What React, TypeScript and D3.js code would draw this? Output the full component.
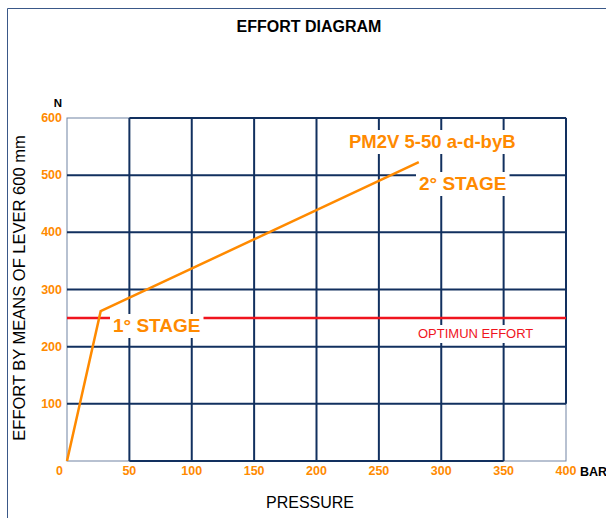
import React, { useEffect, useRef } from "react"
import * as d3 from "d3"

// values
const xTicks = [0, 50, 100, 150, 200, 250, 300, 350, 400]
const yTicks = [100, 200, 300, 400, 500, 600]
const effortCurve: [number, number][] = [[0, 0], [27, 262], [282, 523]]
const optimumEffort = 250

const ORANGE = "#ff8a00"
const NAVY = "#12305f"
const RED = "#f0141e"
const FONT = "Arial, 'Liberation Sans', sans-serif"

function App() {
    const ref = useRef<SVGSVGElement>(null)

    useEffect(() => {
        const svg = d3.select(ref.current)
        svg.selectAll("*").remove()

        const x = d3.scaleLinear().domain([0, 400]).range([67, 566])
        const y = d3.scaleLinear().domain([0, 600]).range([461, 118])

        // page frame
        svg.append("path")
            .attr("d", "M7.5,518 V8.5 H606")
            .attr("fill", "none")
            .attr("stroke", "#3a5888")
            .attr("stroke-width", 1)

        // thin plot border
        svg.append("rect")
            .attr("x", x(0)).attr("y", y(600))
            .attr("width", x(400) - x(0)).attr("height", y(0) - y(600))
            .attr("fill", "none")
            .attr("stroke", "#7083a3")
            .attr("stroke-width", 1)

        const grid = svg.append("g").attr("stroke", NAVY).attr("stroke-width", 2)
        xTicks.filter(d => d > 0 && d < 400).forEach(d => {
            grid.append("line").attr("x1", x(d)).attr("x2", x(d)).attr("y1", y(0)).attr("y2", y(600))
        })
        grid.append("line").attr("x1", x(400)).attr("x2", x(400)).attr("y1", y(100)).attr("y2", y(600))
        yTicks.filter(d => d < 600).forEach(d => {
            grid.append("line").attr("x1", x(0)).attr("x2", x(400)).attr("y1", y(d)).attr("y2", y(d))
        })
        grid.append("line").attr("x1", x(50)).attr("x2", x(400)).attr("y1", y(600)).attr("y2", y(600))
        grid.append("line").attr("x1", x(50)).attr("x2", x(350)).attr("y1", y(0)).attr("y2", y(0))

        // optimum effort line
        svg.append("line")
            .attr("x1", x(0)).attr("x2", x(400))
            .attr("y1", y(optimumEffort)).attr("y2", y(optimumEffort))
            .attr("stroke", RED)
            .attr("stroke-width", 2.5)

        // tick labels
        svg.append("g").selectAll("text").data(xTicks).enter().append("text")
            .attr("x", d => x(d)).attr("y", 475)
            .attr("text-anchor", d => d === 0 ? "end" : "middle")
            .attr("dx", d => d === 0 ? -4 : 0)
            .attr("font-family", FONT).attr("font-size", 12.5).attr("font-weight", "bold")
            .attr("fill", ORANGE)
            .text(d => d)
        svg.append("g").selectAll("text").data(yTicks).enter().append("text")
            .attr("x", 62).attr("y", d => y(d) + 4)
            .attr("text-anchor", "end")
            .attr("font-family", FONT).attr("font-size", 12.5).attr("font-weight", "bold")
            .attr("fill", ORANGE)
            .text(d => d)

        const text = (tx: number, ty: number, s: string, opts: any = {}) => {
            const g = svg.append("g")
            const t = g.append("text")
                .attr("x", tx).attr("y", ty)
                .attr("font-family", FONT)
                .attr("font-size", opts.size || 12)
                .attr("font-weight", opts.weight || "normal")
                .attr("fill", opts.fill || "#000")
                .attr("text-anchor", opts.anchor || "start")
                .attr("transform", opts.transform || null)
                .text(s)
            // white box behind in-plot labels, hides grid lines
            if (opts.bg) {
                const b = (t.node() as SVGTextElement).getBBox()
                g.insert("rect", "text")
                    .attr("x", b.x - 3).attr("y", b.y - 1)
                    .attr("width", b.width + 6).attr("height", b.height + 3)
                    .attr("fill", "#fff")
            }
            return t
        }

        text(309, 32, "EFFORT DIAGRAM", { size: 16, weight: "bold", anchor: "middle" })
        text(58, 107, "N", { size: 11.5, weight: "bold", anchor: "middle" })
        text(580, 476, "BAR", { size: 12.5, weight: "bold" })
        text(310, 508, "PRESSURE", { size: 16, anchor: "middle" })
        text(0, 0, "EFFORT BY MEANS OF LEVER 600 mm", {
            size: 16.5, anchor: "middle", transform: "translate(25,288) rotate(-90)"
        })
        text(349, 148, "PM2V 5-50 a-d-byB", { size: 18.5, weight: "bold", fill: ORANGE, bg: true })
        text(419, 190, "2° STAGE", { size: 19, weight: "bold", fill: ORANGE, bg: true })
        text(113, 332, "1° STAGE", { size: 19, weight: "bold", fill: ORANGE, bg: true })
        text(418, 338, "OPTIMUN EFFORT", { size: 13, fill: RED, bg: true })

        const line = d3.line<[number, number]>().x(d => x(d[0])).y(d => y(d[1]))
        svg.append("path")
            .attr("d", line(effortCurve))
            .attr("fill", "none")
            .attr("stroke", ORANGE)
            .attr("stroke-width", 2.5)
    }, [])

    return <svg ref={ref} width={606} height={518} style={{ position: "absolute", left: 0, top: 0 }} />
}

export default App
